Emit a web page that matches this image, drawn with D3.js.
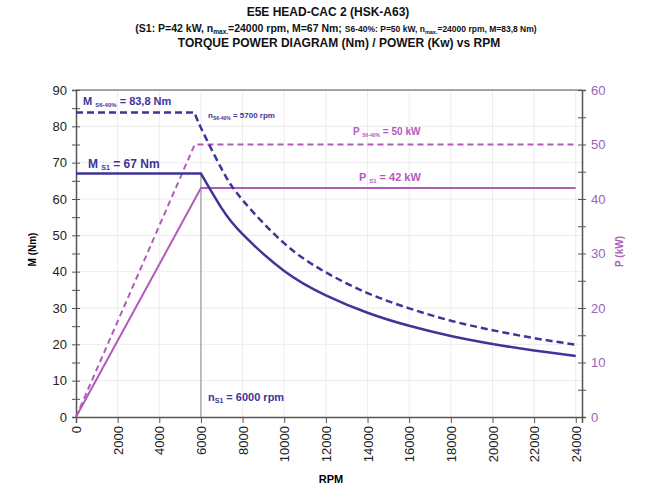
<!DOCTYPE html>
<html>
<head>
<meta charset="utf-8">
<script src="https://cdn.jsdelivr.net/npm/d3@7"></script>
<style>
  body { margin: 0; background: #fff; }
  svg { font-family: 'Liberation Sans', Arial, sans-serif; }
</style>
</head>
<body>
<svg id="chart" width="650" height="489"></svg>
<script>
// torque S1 (Nm)
const torqueS1Rpm = [0, 6000, 7000, 8000, 10000, 12000, 14000, 16000, 18000, 20000, 22000, 24000]
const torqueS1 = [67, 67, 57.4, 50.3, 40.2, 33.5, 28.7, 25.1, 22.3, 20.1, 18.3, 16.8]
// torque S6-40% (Nm)
const torqueS6Rpm = [0, 5700, 6000, 7000, 8000, 10000, 12000, 14000, 16000, 18000, 20000, 22000, 24000]
const torqueS6 = [83.8, 83.8, 79.6, 68.2, 59.7, 47.8, 39.8, 34.1, 29.9, 26.5, 23.9, 21.7, 19.9]
// power (kW)
const powerS1Rpm = [0, 6000, 24000]
const powerS1 = [0, 42, 42]
const powerS6Rpm = [0, 5700, 24000]
const powerS6 = [0, 50, 50]
// ticks
const rpmTicks = [0, 2000, 4000, 6000, 8000, 10000, 12000, 14000, 16000, 18000, 20000, 22000, 24000]
const torqueTicks = [0, 10, 20, 30, 40, 50, 60, 70, 80, 90]
const powerTicks = [0, 10, 20, 30, 40, 50, 60]

const blue = '#3d3597'
const purple = '#b35abd'
const purpleText = '#9a62b8'

const margin = { top: 90, left: 76, right: 68, bottom: 72 }
const width = 650 - margin.left - margin.right
const height = 489 - margin.top - margin.bottom

const svg = d3.select('#chart')
const g = svg.append('g').attr('transform', `translate(${margin.left},${margin.top})`)

const x = d3.scaleLinear().domain([0, 24300]).range([0, width])
const yM = d3.scaleLinear().domain([0, 90]).range([height, 0])
const yP = d3.scaleLinear().domain([0, 60]).range([height, 0])

//title
const title = svg.append('g').attr('font-weight', 'bold').attr('text-anchor', 'middle').attr('fill', '#111')
title.append('text').attr('x', 328).attr('y', 16).attr('font-size', 12).text('E5E HEAD-CAC 2 (HSK-A63)')
const t2 = title.append('text').attr('x', 336).attr('y', 32).attr('font-size', 10.5)
t2.append('tspan').text('(S1: P=42 kW, n')
t2.append('tspan').attr('font-size', 6.5).attr('dy', 2).text('max.')
t2.append('tspan').attr('dy', -2).text('=24000 rpm, M=67 Nm; ')
t2.append('tspan').attr('font-size', 8.5).text('S6-40%: P=50 kW, n')
t2.append('tspan').attr('font-size', 5.5).attr('dy', 2).text('max.')
t2.append('tspan').attr('font-size', 8.5).attr('dy', -2).text('=24000 rpm, M=83,8 Nm)')
title.append('text').attr('x', 339).attr('y', 47).attr('font-size', 12).text('TORQUE POWER DIAGRAM (Nm) / POWER (Kw) vs RPM')

//grid
g.append('g').selectAll('line').data(rpmTicks.slice(1)).join('line')
  .attr('x1', d => x(d)).attr('x2', d => x(d)).attr('y1', 0).attr('y2', height)
  .attr('stroke', '#ececec').attr('stroke-width', 1)
g.append('g').selectAll('line').data(torqueTicks.slice(1)).join('line')
  .attr('x1', 0).attr('x2', width).attr('y1', d => yM(d)).attr('y2', d => yM(d))
  .attr('stroke', '#ececec').attr('stroke-width', 1)

//frame top
g.append('line').attr('x1', 0).attr('x2', width).attr('y1', 0).attr('y2', 0)
  .attr('stroke', '#555').attr('stroke-width', 1)

//axes
const xAxis = g.append('g').attr('transform', `translate(0,${height})`)
  .call(d3.axisBottom(x).tickValues(rpmTicks).tickSize(6).tickFormat(d3.format('d')))
xAxis.selectAll('text')
  .attr('transform', 'rotate(-90)')
  .attr('text-anchor', 'end')
  .attr('x', -9).attr('y', 0).attr('dy', '0.35em')
  .attr('font-size', 13).attr('fill', '#222')

const yAxisL = g.append('g')
  .call(d3.axisLeft(yM).tickValues(d3.range(0, 91, 5)).tickSize(4).tickFormat(d => d % 10 === 0 ? d : ''))
yAxisL.selectAll('.tick line').attr('x2', 4).attr('x1', -4)
yAxisL.selectAll('text').attr('x', -9).attr('font-size', 13).attr('fill', '#222')

const yAxisR = g.append('g').attr('transform', `translate(${width},0)`)
  .call(d3.axisRight(yP).tickValues(d3.range(0, 61, 5)).tickSize(4).tickFormat(d => d % 10 === 0 ? d : ''))
yAxisR.selectAll('.tick line').attr('x1', -4).attr('x2', 4)
yAxisR.selectAll('text').attr('x', 9).attr('font-size', 13).attr('fill', purpleText)

svg.selectAll('.domain').attr('stroke', '#555').attr('stroke-width', 1.5)
svg.selectAll('.tick line').attr('stroke', '#555')

//axis labels
g.append('text').attr('x', width / 2 + 2).attr('y', height + 66)
  .attr('text-anchor', 'middle').attr('font-size', 11).attr('font-weight', 'bold').text('RPM')
g.append('text').attr('transform', `translate(-40,${height / 2 - 4}) rotate(-90)`)
  .attr('text-anchor', 'middle').attr('font-size', 10).attr('font-weight', 'bold').text('M (Nm)')
g.append('text').attr('transform', `translate(${width + 41},${height / 2 - 2}) rotate(-90)`)
  .attr('text-anchor', 'middle').attr('font-size', 10).attr('font-weight', 'bold')
  .attr('fill', purple).text('P (kW)')

//vertical marker at n S1
g.append('line')
  .attr('x1', x(6000)).attr('x2', x(6000)).attr('y1', yM(0)).attr('y2', yM(67))
  .attr('stroke', '#888').attr('stroke-width', 1)

//curves
const lineP = d3.line().x(d => x(d[0])).y(d => yP(d[1]))
const lineFlat = d3.line().x(d => x(d[0])).y(d => yM(d[1]))
const lineCurve = d3.line().x(d => x(d[0])).y(d => yM(d[1])).curve(d3.curveNatural)

// torque: flat part straight, falling part smooth, joined at the corner point
const torquePath = (rpm, val, corner) => {
  const pts = d3.zip(rpm, val)
  return lineFlat(pts.slice(0, corner + 1)) + 'L' + lineCurve(pts.slice(corner)).slice(1)
}

g.append('path').datum(d3.zip(powerS6Rpm, powerS6)).attr('d', lineP)
  .attr('fill', 'none').attr('stroke', purple).attr('stroke-width', 2).attr('stroke-dasharray', '6,4')
g.append('path').datum(d3.zip(powerS1Rpm, powerS1)).attr('d', lineP)
  .attr('fill', 'none').attr('stroke', purple).attr('stroke-width', 2)
g.append('path').attr('d', torquePath(torqueS6Rpm, torqueS6, 1))
  .attr('fill', 'none').attr('stroke', blue).attr('stroke-width', 2.5).attr('stroke-dasharray', '7,4')
g.append('path').attr('d', torquePath(torqueS1Rpm, torqueS1, 1))
  .attr('fill', 'none').attr('stroke', blue).attr('stroke-width', 2.5)

//annotations
const label = (px, py, main, sub, rest, size, color, subSize) => {
  const t = svg.append('text').attr('x', px).attr('y', py).attr('font-size', size)
    .attr('font-weight', 'bold').attr('fill', color)
  t.append('tspan').text(main)
  t.append('tspan').attr('font-size', subSize).attr('dy', 2).text(sub)
  t.append('tspan').attr('dy', -2).text(rest)
}
label(83, 105, 'M ', 'S6-40%', ' = 83,8 Nm', 11, blue, 6)
label(208, 118, 'n', 'S6-40%', ' = 5700 rpm', 8, blue, 5)
label(353, 135, 'P ', 'S6-40%', ' = 50 kW', 10, purple, 5)
label(359, 181, 'P ', 'S1', ' = 42 kW', 11, purple, 6)
label(88, 168, 'M ', 'S1', ' = 67 Nm', 12, blue, 7)
label(208, 401, 'n', 'S1', ' = 6000 rpm', 11, blue, 7)
</script>
</body>
</html>
